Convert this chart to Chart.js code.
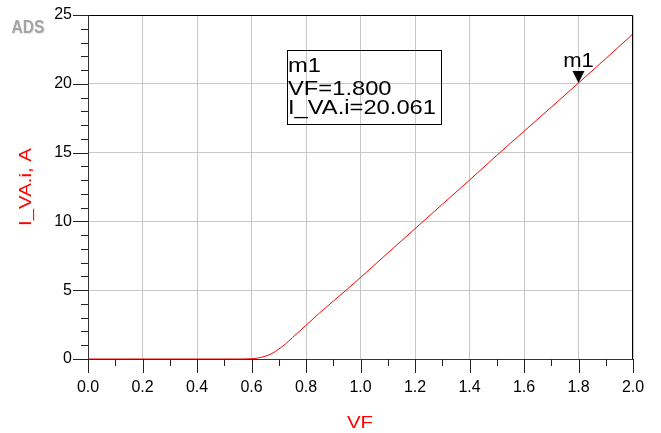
<!DOCTYPE html>
<html>
<head>
<meta charset="utf-8">
<script src="https://cdn.jsdelivr.net/npm/chart.js@4"></script>
<style>
html,body{margin:0;padding:0;background:#fff;}
#wrap{width:661px;height:433px;position:relative;}
</style>
</head>
<body>
<div id="wrap"><canvas id="c" width="661" height="433"></canvas></div>
<script>
// Data
const vfValues = [0.0,0.1,0.2,0.3,0.4,0.5,0.55,0.6,0.625,0.65,0.675,0.7,0.725,0.75,0.775,0.8,0.85,0.9,0.95,1.0,1.1,1.2,1.3,1.4,1.5,1.6,1.7,1.8,1.9,2.0];
const currentValues = [0,0,0,0,0,0,0,0.02,0.08,0.2,0.4,0.72,1.1,1.55,2.0,2.45,3.35,4.2,5.05,5.92,7.7,9.47,11.24,13.0,14.8,16.55,18.3,20.06,21.83,23.63];
const xTickLabels = ['0.0','0.2','0.4','0.6','0.8','1.0','1.2','1.4','1.6','1.8','2.0'];
const yTickLabels = ['0','5','10','15','20','25'];
const markerName = 'm1';
const markerVF = 1.8;
const markerI = 20.061;

const FONT = '"Liberation Sans", Arial, sans-serif';
const points = vfValues.map((v, i) => ({x: v, y: currentValues[i]}));

function wideText(ctx, text, x, y, sx, align) {
  ctx.save();
  ctx.translate(x, y);
  ctx.scale(sx, 1);
  ctx.textAlign = align;
  ctx.fillText(text, 0, 0);
  ctx.restore();
}

const decor = {
  id: 'decor',
  afterDraw(chart) {
    const ctx = chart.ctx;
    const xs = chart.scales.x, ys = chart.scales.y;
    const a = chart.chartArea;
    ctx.save();
    // frame
    ctx.strokeStyle = '#000';
    ctx.lineWidth = 1;
    ctx.beginPath();
    ctx.moveTo(a.left + 0.5, a.top + 0.5);
    ctx.lineTo(a.right - 0.5, a.top + 0.5);
    ctx.lineTo(a.right - 0.5, a.bottom + 0.5);
    ctx.stroke();
    ctx.strokeStyle = '#333';
    ctx.beginPath();
    ctx.moveTo(a.left + 0.5, a.top);
    ctx.lineTo(a.left + 0.5, a.bottom + 0.5);
    ctx.lineTo(a.right, a.bottom + 0.5);
    ctx.stroke();
    // ticks
    ctx.strokeStyle = '#222';
    ctx.beginPath();
    for (let i = 0; i <= 20; i++) {
      const px = Math.round(xs.getPixelForValue(i * 0.1)) + 0.5;
      const len = (i % 2 === 0) ? 14 : 7;
      ctx.moveTo(px, a.bottom);
      ctx.lineTo(px, a.bottom + len);
    }
    for (let j = 0; j <= 25; j++) {
      const py = Math.round(ys.getPixelForValue(j)) + 0.5;
      const len = (j % 5 === 0) ? 15 : 7;
      ctx.moveTo(a.left, py);
      ctx.lineTo(a.left - len, py);
    }
    ctx.stroke();
    // axis titles
    ctx.fillStyle = '#ff0000';
    ctx.font = '17px ' + FONT;
    ctx.textBaseline = 'middle';
    wideText(ctx, 'VF', 360, 423, 1.2, 'center');
    ctx.save();
    ctx.translate(26, 187);
    ctx.rotate(-Math.PI / 2);
    wideText(ctx, 'I_VA.i, A', 0, 0, 1.2, 'center');
    ctx.restore();
    // ADS logo
    ctx.save();
    ctx.translate(28, 28);
    ctx.scale(0.82, 1);
    ctx.font = 'bold 19px ' + FONT;
    ctx.textAlign = 'center';
    ctx.fillStyle = '#e6e6e6';
    ctx.fillText('ADS', 1.2, 1);
    ctx.fillStyle = '#a4a4a4';
    ctx.fillText('ADS', 0, 0);
    ctx.restore();
    // marker
    const mx = xs.getPixelForValue(markerVF);
    const my = ys.getPixelForValue(markerI);
    ctx.fillStyle = '#000';
    ctx.beginPath();
    ctx.moveTo(mx, my);
    ctx.lineTo(mx - 6, my - 12);
    ctx.lineTo(mx + 6, my - 12);
    ctx.closePath();
    ctx.fill();
    ctx.font = '21px ' + FONT;
    ctx.textBaseline = 'alphabetic';
    wideText(ctx, markerName, mx, my - 16, 1.05, 'center');
    // marker readout box (transparent)
    ctx.strokeStyle = '#000';
    ctx.strokeRect(287.5, 50.5, 154, 74);
    ctx.fillStyle = '#000';
    ctx.font = '21px ' + FONT;
    wideText(ctx, markerName, 288, 72, 1.13, 'left');
    wideText(ctx, 'VF=' + markerVF.toFixed(3), 288, 95, 1.13, 'left');
    wideText(ctx, 'I_VA.i=' + markerI.toFixed(3), 288, 114, 1.13, 'left');
    ctx.restore();
  }
};

new Chart(document.getElementById('c'), {
  type: 'line',
  data: {
    datasets: [{
      data: points,
      borderColor: '#ff0000',
      borderWidth: 1,
      pointRadius: 0,
      fill: false,
      cubicInterpolationMode: 'monotone'
    }]
  },
  options: {
    responsive: false,
    animation: false,
    devicePixelRatio: 1,
    layout: {padding: {top: 15, right: 28, left: 0, bottom: 0}},
    plugins: {legend: {display: false}, tooltip: {enabled: false}},
    scales: {
      x: {
        type: 'linear', min: 0, max: 2,
        afterFit(s) { s.height = 74; s.paddingLeft = 0; s.paddingRight = 0; },
        afterBuildTicks(s) { s.ticks = xTickLabels.map(t => ({value: parseFloat(t)})); },
        ticks: {
          color: '#000', padding: 19, maxRotation: 0,
          font: {size: 16, family: FONT},
          callback: (v) => xTickLabels.find(t => Math.abs(parseFloat(t) - v) < 1e-6) || ''
        },
        grid: {color: '#c8c8c8', lineWidth: 1, drawTicks: false},
        border: {display: false}
      },
      y: {
        type: 'linear', min: 0, max: 25,
        afterFit(s) { s.width = 88; s.paddingTop = 0; s.paddingBottom = 0; },
        afterBuildTicks(s) { s.ticks = yTickLabels.map(t => ({value: parseFloat(t)})); },
        ticks: {
          color: '#000', padding: 16,
          font: {size: 16, family: FONT},
          callback: (v) => yTickLabels.find(t => Math.abs(parseFloat(t) - v) < 1e-6) || ''
        },
        grid: {color: '#c8c8c8', lineWidth: 1, drawTicks: false},
        border: {display: false}
      }
    }
  },
  plugins: [decor]
});
</script>
</body>
</html>
